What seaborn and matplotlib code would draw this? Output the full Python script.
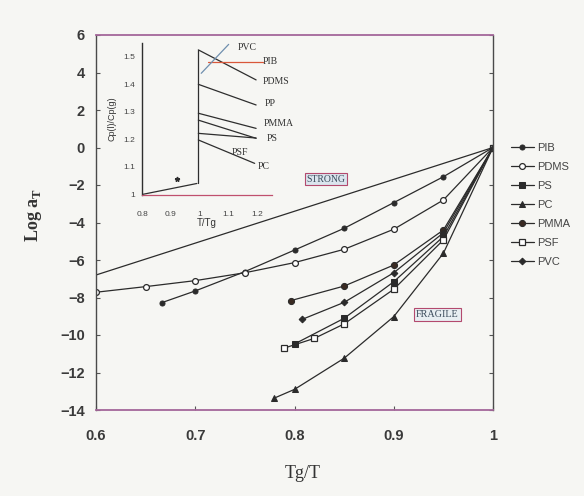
import numpy as np
import pandas as pd
import matplotlib
matplotlib.use("Agg")
import matplotlib.pyplot as plt
import seaborn as sns

# ---------------- data ----------------
strong_x = [0.60, 1.00]
strong_y = [-6.8, 0.0]

pib_x = [0.666, 0.70, 0.75, 0.80, 0.85, 0.90, 0.95, 1.00]
pib_y = [-8.28, -7.65, -6.62, -5.47, -4.31, -2.94, -1.56, 0.0]

pdms_x = [0.60, 0.65, 0.70, 0.75, 0.80, 0.85, 0.90, 0.95, 1.00]
pdms_y = [-7.72, -7.42, -7.10, -6.68, -6.14, -5.43, -4.36, -2.80, 0.0]

ps_x = [0.80, 0.85, 0.90, 0.95, 1.00]
ps_y = [-10.48, -9.11, -7.16, -4.75, 0.0]

pc_x = [0.779, 0.80, 0.85, 0.90, 0.95, 1.00]
pc_y = [-13.38, -12.90, -11.24, -9.02, -5.64, 0.0]

pmma_x = [0.796, 0.85, 0.90, 0.95, 1.00]
pmma_y = [-8.17, -7.39, -6.27, -4.40, 0.0]

psf_x = [0.789, 0.82, 0.85, 0.90, 0.95, 1.00]
psf_y = [-10.71, -10.18, -9.41, -7.56, -4.93, 0.0]

pvc_x = [0.808, 0.85, 0.90, 0.95, 1.00]
pvc_y = [-9.16, -8.26, -6.68, -4.55, 0.0]

series_names = ["PIB", "PDMS", "PS", "PC", "PMMA", "PSF", "PVC"]
x_ticks = [0.6, 0.7, 0.8, 0.9, 1.0]
x_ticklabels = ["0.6", "0.7", "0.8", "0.9", "1"]
y_ticks = [6, 4, 2, 0, -2, -4, -6, -8, -10, -12, -14]

# inset data: Cp(l)/Cp(g) vs T/Tg
glass_x = [0.80, 0.99]
glass_y = [1.00, 1.04]
jump_x = [0.995, 0.995]
jump_y = [1.04, 1.525]
in_pvc_x = [1.005, 1.10]
in_pvc_y = [1.44, 1.545]
in_pib_x = [1.03, 1.22]
in_pib_y = [1.482, 1.482]
in_pdms_x = [0.995, 1.195]
in_pdms_y = [1.525, 1.416]
in_pp_x = [0.995, 1.195]
in_pp_y = [1.40, 1.325]
in_pmma_x = [0.995, 1.195]
in_pmma_y = [1.295, 1.24]
in_ps_x = [0.995, 1.195]
in_ps_y = [1.27, 1.204]
in_psf_x = [0.995, 1.195]
in_psf_y = [1.222, 1.205]
in_pc_x = [0.995, 1.19]
in_pc_y = [1.198, 1.113]
in_labels = ["PVC", "PIB", "PDMS", "PP", "PMMA", "PS", "PSF", "PC"]
in_label_x = [1.165, 1.245, 1.265, 1.245, 1.272, 1.252, 1.140, 1.222]
in_label_y = [1.532, 1.482, 1.410, 1.330, 1.258, 1.204, 1.152, 1.100]
star_x = [0.92]
star_y = [1.055]

# ---------------- styling ----------------
sns.set_theme(style="white")
plt.rcParams["font.family"] = ["Liberation Sans", "DejaVu Sans"]

bg = "#f6f6f3"
fig = plt.figure(figsize=(5.84, 4.96), dpi=100, facecolor=bg)
ax = fig.add_axes([96 / 584, 1 - 410 / 496, 397 / 584, 375 / 496])
ax.set_facecolor(bg)

lc = "#2b2b2b"
lw = 0.9

sns.lineplot(x=strong_x, y=strong_y, ax=ax, color=lc, lw=lw, sort=False,
             estimator=None, legend=False)

styles = {
    "PIB": (pib_x, pib_y, dict(marker="o", ms=3.6, mfc=lc, mec=lc)),
    "PDMS": (pdms_x, pdms_y, dict(marker="o", ms=4.2, mfc="white", mec=lc, mew=0.9)),
    "PS": (ps_x, ps_y, dict(marker="s", ms=4.0, mfc=lc, mec=lc)),
    "PC": (pc_x, pc_y, dict(marker="^", ms=4.0, mfc=lc, mec=lc)),
    "PMMA": (pmma_x, pmma_y, dict(marker="o", ms=4.4, mfc="#3a2a22", mec=lc)),
    "PSF": (psf_x, psf_y, dict(marker="s", ms=4.2, mfc="white", mec=lc, mew=0.9)),
    "PVC": (pvc_x, pvc_y, dict(marker="D", ms=3.4, mfc=lc, mec=lc)),
}
for name in series_names:
    xs, ys, kw = styles[name]
    sns.lineplot(x=xs, y=ys, ax=ax, color=lc, lw=lw, sort=False,
                 estimator=None, label=name, **kw)

ax.set_xlim(0.6, 1.0)
ax.set_ylim(-14, 6)
ax.set_xticks(x_ticks)
ax.set_xticklabels(x_ticklabels)
ax.set_yticks(y_ticks)
for lab in ax.get_xticklabels() + ax.get_yticklabels():
    lab.set_fontweight("bold")
    lab.set_color("#3a3a3a")
    lab.set_fontsize(10.5)
ax.tick_params(axis="both", direction="in", length=3, width=0.8, color="#555555",
               right=True, left=True, bottom=True, top=False, pad=8)
ax.tick_params(axis="x", pad=14)

for side in ["left", "right"]:
    ax.spines[side].set_color("#4a4a4a")
    ax.spines[side].set_linewidth(1.0)
for side in ["top", "bottom"]:
    ax.spines[side].set_color("#a4679a")
    ax.spines[side].set_linewidth(1.3)

ax.set_ylabel("Log a$_\\mathregular{T}$", family=["Liberation Serif", "DejaVu Serif"],
              fontsize=13, fontweight="bold", color="#333333")
ax.yaxis.set_label_coords(-0.132, 0.52)
ax.set_xlabel("Tg/T", family=["Liberation Serif", "DejaVu Serif"], fontsize=13,
              color="#333333")
ax.xaxis.set_label_coords(0.52, -0.147)

leg = ax.legend(loc="upper left", bbox_to_anchor=(1.035, 0.725), frameon=False,
                fontsize=8.0, handlelength=2.0, labelspacing=0.82, handletextpad=0.35,
                borderaxespad=0)
for t in leg.get_texts():
    t.set_color("#444444")

ax.text(0.832, -1.68, "STRONG", fontsize=7, family=["Liberation Serif", "DejaVu Serif"],
        ha="center", va="center", color="#3a4a5a",
        bbox=dict(boxstyle="square,pad=0.15", fc="#dbe5ee", ec="#b34a6e", lw=0.8))
ax.text(0.944, -8.93, "FRAGILE", fontsize=7.3, family=["Liberation Serif", "DejaVu Serif"],
        ha="center", va="center", color="#3a4a5a",
        bbox=dict(boxstyle="square,pad=0.2", fc="#e8eef2", ec="#b34a6e", lw=0.8))

# ---------------- inset ----------------
ain = fig.add_axes([142 / 584, 1 - 194.5 / 496, 130 / 584, 151.5 / 496])
ain.patch.set_alpha(0)
ain.set_xlim(0.8, 1.25)
ain.set_ylim(1.0, 1.55)
ic = "#2e2e2e"
for xs, ys, col in [(glass_x, glass_y, ic), (jump_x, jump_y, ic),
                    (in_pdms_x, in_pdms_y, ic), (in_pp_x, in_pp_y, ic),
                    (in_pmma_x, in_pmma_y, ic), (in_ps_x, in_ps_y, ic),
                    (in_psf_x, in_psf_y, ic), (in_pc_x, in_pc_y, ic),
                    (in_pib_x, in_pib_y, "#d9573a"), (in_pvc_x, in_pvc_y, "#6f8fae")]:
    sns.lineplot(x=xs, y=ys, ax=ain, color=col, lw=0.9, sort=False,
                 estimator=None, legend=False)
ain.plot(star_x, star_y, marker="*", ms=3.5, color=ic, ls="none")
for lab, lx, ly in zip(in_labels, in_label_x, in_label_y):
    ain.text(lx, ly, lab, fontsize=7, family=["Liberation Serif", "DejaVu Serif"],
             color="#333333", ha="center", va="center", clip_on=False)

ain.set_xticks([0.8, 0.9, 1.0, 1.1, 1.2])
ain.set_xticklabels(["0.8", "0.9", "1", "1.1", "1.2"])
ain.set_yticks([1.0, 1.1, 1.2, 1.3, 1.4, 1.5])
ain.set_yticklabels(["1", "1.1", "1.2", "1.3", "1.4", "1.5"])
ain.tick_params(axis="both", labelsize=6, direction="in", length=2, width=0.6,
                colors="#444444", pad=5)
ain.tick_params(axis="x", pad=12)
ain.spines["top"].set_visible(False)
ain.spines["right"].set_visible(False)
ain.spines["left"].set_color("#2e2e2e")
ain.spines["left"].set_linewidth(1.0)
ain.spines["bottom"].set_color("#c0506e")
ain.spines["bottom"].set_linewidth(0.9)
ain.set_xlabel("T/Tg", fontsize=7, color="#333333", labelpad=0)
ain.set_ylabel("Cp(l)/Cp(g)", fontsize=6.5, color="#333333", labelpad=5)

fig.savefig("out.png", dpi=100, facecolor=bg)
